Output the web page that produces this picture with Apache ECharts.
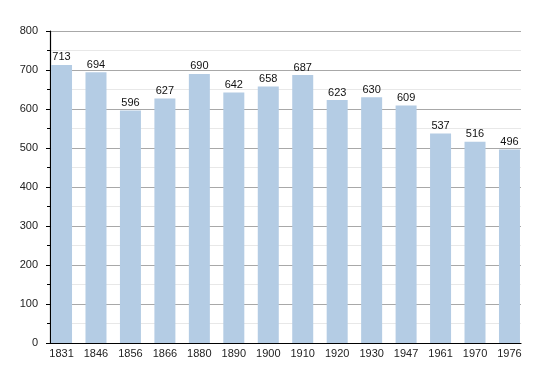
<!DOCTYPE html>
<html>
<head>
<meta charset="utf-8">
<script src="https://cdn.jsdelivr.net/npm/echarts@6/dist/echarts.min.js"></script>
<style>
  html, body { margin: 0; padding: 0; background: #fff; }
  #chart { width: 550px; height: 373px; }
</style>
</head>
<body>
<div id="chart"></div>
<script>
const years = ['1831','1846','1856','1866','1880','1890','1900','1910','1920','1930','1947','1961','1970','1976'];
const population = [713, 694, 596, 627, 690, 642, 658, 687, 623, 630, 609, 537, 516, 496];
const yMin = 0, yMax = 800, yStep = 100;

const font = 'Liberation Sans, Arial, sans-serif';
const chart = echarts.init(document.getElementById('chart'), null, { renderer: 'canvas' });
chart.setOption({
  animation: false,
  backgroundColor: '#ffffff',
  grid: [
    { left: 50, right: 29, top: 31, bottom: 30 },
    { left: 44.3, right: 23.3, top: 31, bottom: 30 }
  ],
  xAxis: [
    { type: 'value', gridIndex: 0, min: 0, max: 1,
      axisLine: { show: true, onZero: false, lineStyle: { color: '#000', width: 1.2 } },
      axisTick: { show: false }, axisLabel: { show: false }, splitLine: { show: false } },
    { type: 'category', gridIndex: 1, data: years, boundaryGap: true,
      axisLine: { show: false }, axisTick: { show: false },
      axisLabel: { color: '#222', fontSize: 11, fontFamily: font, margin: 5 },
      splitLine: { show: false } }
  ],
  yAxis: [
    { type: 'value', gridIndex: 0, min: yMin, max: yMax, interval: yStep,
      axisLine: { show: true, lineStyle: { color: '#000', width: 1.2 } },
      axisTick: { show: true, inside: false, length: 4, lineStyle: { color: '#000' } },
      minorTick: { show: true, splitNumber: 2, length: 3, lineStyle: { color: '#000' } },
      axisLabel: { color: '#222', fontSize: 11, fontFamily: font, margin: 12 },
      splitLine: { show: true, lineStyle: { color: '#a8a8a8', width: 1 } },
      minorSplitLine: { show: true, lineStyle: { color: '#e8e8e8', width: 1 } } },
    { type: 'value', gridIndex: 1, min: yMin, max: yMax, interval: yStep, show: false }
  ],
  series: [
    { type: 'scatter', xAxisIndex: 0, yAxisIndex: 0, data: [], silent: true },
    { type: 'bar', xAxisIndex: 1, yAxisIndex: 1, data: population, barWidth: 21,
      itemStyle: { color: '#b4cce4' }, z: 3,
      label: { show: true, position: 'top', distance: 2, color: '#111', fontSize: 11, fontFamily: font } }
  ]
});
</script>
</body>
</html>
